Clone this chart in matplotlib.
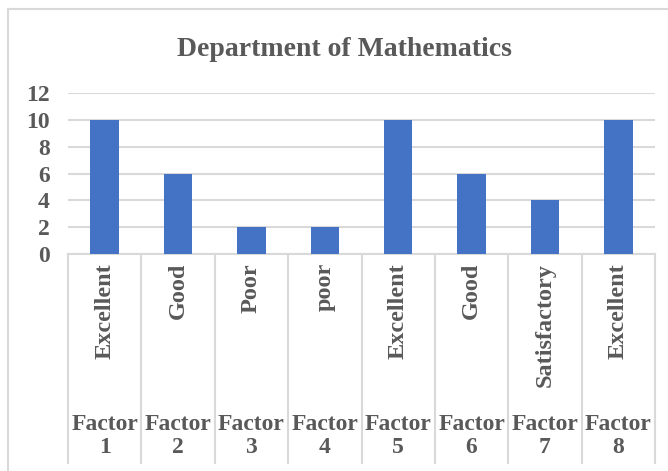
import matplotlib
matplotlib.use("Agg")
import matplotlib.pyplot as plt
from matplotlib import transforms
from matplotlib.lines import Line2D

# data
factors = ["Factor\n1", "Factor\n2", "Factor\n3", "Factor\n4",
           "Factor\n5", "Factor\n6", "Factor\n7", "Factor\n8"]
ratings = ["Excellent", "Good", "Poor", "poor",
           "Excellent", "Good", "Satisfactory", "Excellent"]
scores = [10, 6, 2, 2, 10, 6, 4, 10]
yticks = [0, 2, 4, 6, 8, 10, 12]

W, H = 668, 471
TXT = "#595959"
GRID = "#D9D9D9"
BAR = "#4472C4"
FONT = ["Liberation Serif", "DejaVu Serif"]

plt.rcParams["font.family"] = FONT
plt.rcParams["font.weight"] = "bold"


def fx(px):
    return px / W


def fy(py):
    return (H - py) / H


fig = plt.figure(figsize=(W / 100, H / 100), dpi=100)
fig.patch.set_facecolor("white")

# chart border (left and top visible)
fig.add_artist(Line2D([fx(8), fx(8)], [fy(9), fy(H + 5)], color=GRID, lw=1.5,
                      transform=fig.transFigure))
fig.add_artist(Line2D([fx(8), fx(W + 5)], [fy(9), fy(9)], color=GRID, lw=1.5,
                      transform=fig.transFigure))

x0, x1, ytop, ybot = 68, 655, 93, 254
ax = fig.add_axes([fx(x0), fy(ybot), fx(x1 - x0), (ybot - ytop) / H])

xs = list(range(len(scores)))
ax.bar(xs, scores, width=0.39, color=BAR, zorder=3)
ax.set_xlim(-0.5, len(scores) - 0.5)
ax.set_ylim(0, 12)
ax.set_yticks(yticks)
ax.set_yticklabels([str(v) for v in yticks], fontsize=17, color=TXT,
                   fontweight="bold")
ax.tick_params(axis="y", length=0, pad=13)
ax.set_xticks([])
ax.yaxis.grid(True, color=GRID, lw=1.5, zorder=0)
for s in ["top", "right", "left"]:
    ax.spines[s].set_visible(False)
ax.spines["bottom"].set_color(GRID)
ax.spines["bottom"].set_linewidth(1.5)

# multi-level category axis
tr = transforms.blended_transform_factory(ax.transData, fig.transFigure)
for b in [i - 0.5 for i in range(len(scores) + 1)]:
    fig.add_artist(Line2D([b, b], [fy(ybot), fy(463)], color=GRID, lw=1.5,
                          transform=tr))

for x, r, f in zip(xs, ratings, factors):
    fig.text(x, fy(263), r, transform=tr, rotation=90, ha="center", va="top",
             fontsize=17.5, color=TXT, fontweight="bold")
    fig.text(x, fy(436), f, transform=tr, ha="center", va="center",
             fontsize=17, color=TXT, fontweight="bold", linespacing=1.12)

fig.text(fx(344), fy(56), "Department of Mathematics", ha="center",
         va="baseline", fontsize=20, color=TXT, fontweight="bold")

fig.savefig("out.png", dpi=100)
